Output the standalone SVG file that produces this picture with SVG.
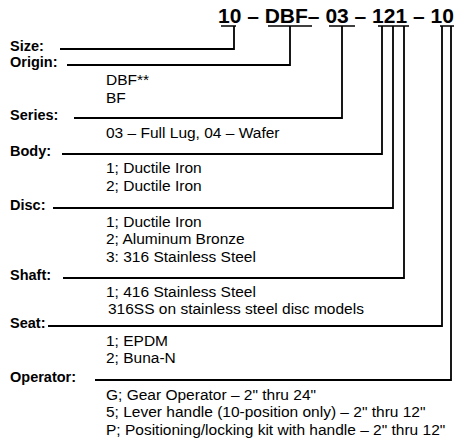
<svg xmlns="http://www.w3.org/2000/svg" width="457" height="445" viewBox="0 0 457 445">
<style>
.t{font-family:"Liberation Sans",Arial,Helvetica,sans-serif;font-size:15.5px;fill:#000}
.l{font-family:"Liberation Sans",Arial,Helvetica,sans-serif;font-size:14.5px;font-weight:bold;fill:#000}
.h{font-family:"Liberation Sans",Arial,Helvetica,sans-serif;font-size:21px;font-weight:bold;fill:#000}
.c{fill:none;stroke:#000;stroke-width:1.8}
.u{fill:none;stroke:#000;stroke-width:1.3}
</style>
<rect width="457" height="445" fill="#fff"/>
<g id="code">
<text class="h" x="218" y="23">10 – DBF– 03 – 121 – 10</text>
</g>
<g id="connectors">
<path class="u" d="M221,26H236M268,26H312M329,26H355M378,26H409M440,26H454"/>
<path class="c" d="M60,49H234V26"/>
<path class="c" d="M67,65H290V26"/>
<path class="c" d="M74,118H342V26"/>
<path class="c" d="M62,154H382V26"/>
<path class="c" d="M53,208H393V26"/>
<path class="c" d="M63,278H404V26"/>
<path class="c" d="M48,326H442V26"/>
<path class="c" d="M95,380H451V26"/>
</g>
<g id="size"><text class="l" x="10" y="51">Size:</text></g>
<g id="origin"><text class="l" x="10" y="67">Origin:</text>
<text class="t" x="106" y="85">DBF**</text>
<text class="t" x="106" y="102.7">BF</text></g>
<g id="series"><text class="l" x="10" y="120">Series:</text>
<text class="t" x="106" y="138">03 – Full Lug, 04 – Wafer</text></g>
<g id="body"><text class="l" x="10" y="156">Body:</text>
<text class="t" x="106" y="173">1; Ductile Iron</text>
<text class="t" x="106" y="190.7">2; Ductile Iron</text></g>
<g id="disc"><text class="l" x="10" y="210">Disc:</text>
<text class="t" x="106" y="226.7">1; Ductile Iron</text>
<text class="t" x="106" y="244">2; Aluminum Bronze</text>
<text class="t" x="106" y="261.7">3: 316 Stainless Steel</text></g>
<g id="shaft"><text class="l" x="10" y="280">Shaft:</text>
<text class="t" x="106" y="297.3">1; 416 Stainless Steel</text>
<text class="t" x="108" y="314">316SS on stainless steel disc models</text></g>
<g id="seat"><text class="l" x="10" y="328">Seat:</text>
<text class="t" x="106" y="346">1; EPDM</text>
<text class="t" x="106" y="363.3">2; Buna-N</text></g>
<g id="operator"><text class="l" x="10" y="382">Operator:</text>
<text class="t" x="106" y="400">G; Gear Operator – 2" thru 24"</text>
<text class="t" x="106" y="417.3">5; Lever handle (10-position only) – 2" thru 12"</text>
<text class="t" x="106" y="435">P; Positioning/locking kit with handle – 2" thru 12"</text></g>
</svg>
